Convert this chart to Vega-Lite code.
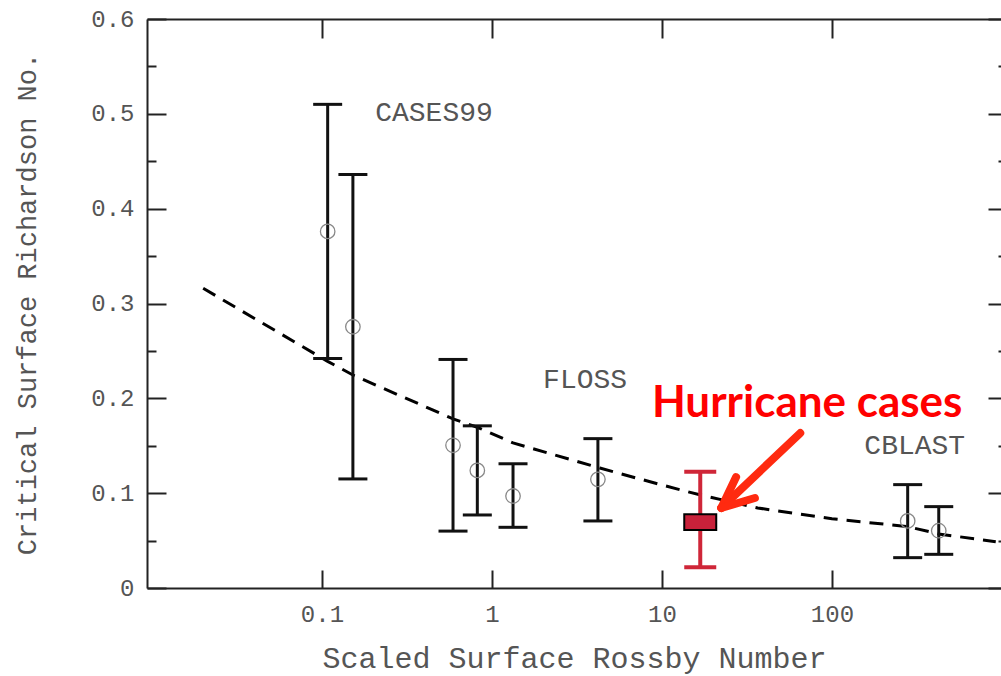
{
  "$schema": "https://vega.github.io/schema/vega-lite/v6.json",
  "autosize": {"type": "none"},
  "padding": {"left": 147, "top": 19, "right": 0, "bottom": 88},
  "width": 854,
  "height": 569,
  "background": "white",
  "config": {"view": {"stroke": null}},
  "datasets": {
    "bars": [
      {"x": 0.108, "lo": 0.242, "hi": 0.510, "mid": 0.376},
      {"x": 0.152, "lo": 0.115, "hi": 0.436, "mid": 0.2755},
      {"x": 0.59, "lo": 0.060, "hi": 0.241, "mid": 0.1505},
      {"x": 0.82, "lo": 0.077, "hi": 0.171, "mid": 0.124},
      {"x": 1.33, "lo": 0.064, "hi": 0.131, "mid": 0.097},
      {"x": 4.2, "lo": 0.0707, "hi": 0.1575, "mid": 0.1146},
      {"x": 279, "lo": 0.032, "hi": 0.109, "mid": 0.0707},
      {"x": 425, "lo": 0.0355, "hi": 0.0858, "mid": 0.0604}
    ],
    "hurricane": [
      {"x": 16.8, "lo": 0.0218, "hi": 0.1227, "boxLo": 0.0612, "boxHi": 0.0777}
    ],
    "curve": [
      {"x": 0.02, "ri": 0.316},
      {"x": 0.108, "ri": 0.239},
      {"x": 0.152, "ri": 0.2246},
      {"x": 0.596, "ri": 0.178},
      {"x": 0.82, "ri": 0.1695},
      {"x": 1.33, "ri": 0.153},
      {"x": 4.31, "ri": 0.1265},
      {"x": 10, "ri": 0.1086},
      {"x": 16.9, "ri": 0.098},
      {"x": 36.6, "ri": 0.0844},
      {"x": 100, "ri": 0.073},
      {"x": 280, "ri": 0.0647},
      {"x": 424, "ri": 0.057},
      {"x": 920, "ri": 0.0488}
    ],
    "labels": [
      {"x": 0.456, "y": 0.501, "text": "CASES99"},
      {"x": 3.53, "y": 0.2193, "text": "FLOSS"},
      {"x": 307, "y": 0.1497, "text": "CBLAST"}
    ],
    "note": [
      {"x": 71.5, "y": 0.194, "text": "Hurricane cases"}
    ],
    "arrow": [
      {"x": 65.1, "y": 0.1634, "x2": 22.34, "y2": 0.0844},
      {"x": 22.34, "y": 0.0844, "x2": 27.3, "y2": 0.117},
      {"x": 22.34, "y": 0.0844, "x2": 35.2, "y2": 0.0949}
    ]
  },
  "resolve": {"axis": {"x": "independent", "y": "independent"}},
  "layer": [
    {
      "data": {"name": "curve"},
      "mark": {"type": "line", "color": "black", "strokeWidth": 3, "strokeDash": [14, 9]},
      "encoding": {
        "x": {"field": "x", "type": "quantitative",
          "scale": {"type": "log", "domain": [0.01, 923], "nice": false},
          "axis": {"orient": "bottom", "values": [0.1, 1, 10, 100], "format": "~g",
            "tickSize": -18, "tickWidth": 2, "tickColor": "#222",
            "domainColor": "#222", "domainWidth": 2, "grid": false,
            "labelFont": "Liberation Mono", "labelFontSize": 24, "labelColor": "#555",
            "labelPadding": 32, "labelFlush": false,
            "title": "Scaled Surface Rossby Number", "titleFont": "Liberation Mono",
            "titleFontSize": 30, "titleFontWeight": "normal", "titleColor": "#555",
            "titleY": 79, "titleBaseline": "alphabetic"}},
        "y": {"field": "ri", "type": "quantitative",
          "scale": {"domain": [0, 0.6], "nice": false, "zero": false},
          "axis": {"orient": "left",
            "values": [0, 0.05, 0.1, 0.15, 0.2, 0.25, 0.3, 0.35, 0.4, 0.45, 0.5, 0.55, 0.6],
            "labelExpr": "abs(datum.value*10 - round(datum.value*10)) < 0.01 ? (datum.value == 0 ? '0' : format(datum.value, '.1f')) : ''",
            "tickSize": {"condition": {"test": "abs(datum.value*10 - round(datum.value*10)) < 0.01", "value": -19}, "value": -9},
            "tickWidth": 2, "tickColor": "#222",
            "domainColor": "#222", "domainWidth": 2, "grid": false,
            "labelFont": "Liberation Mono", "labelFontSize": 24, "labelColor": "#555",
            "labelPadding": 32, "labelFlush": false, "labelBaseline": "middle",
            "title": "Critical Surface Richardson No.", "titleFont": "Liberation Mono",
            "titleFontSize": 27, "titleFontWeight": "normal", "titleColor": "#555",
            "titleX": -112, "titleBaseline": "alphabetic"}}
      }
    },
    {
      "data": {"name": "bars"},
      "mark": {"type": "rule", "color": "#111", "strokeWidth": 3, "opacity": 1},
      "encoding": {
        "x": {"field": "x", "type": "quantitative", "scale": {"type": "log", "domain": [0.01, 923], "nice": false}, "axis": null},
        "y": {"field": "lo", "type": "quantitative", "scale": {"domain": [0, 0.6], "nice": false, "zero": false}, "axis": null},
        "y2": {"field": "hi"}
      }
    },
    {
      "data": {"name": "bars"},
      "mark": {"type": "tick", "orient": "horizontal", "color": "#111", "size": 29, "thickness": 3, "opacity": 1},
      "encoding": {
        "x": {"field": "x", "type": "quantitative", "scale": {"type": "log", "domain": [0.01, 923], "nice": false}, "axis": null},
        "y": {"field": "lo", "type": "quantitative", "scale": {"domain": [0, 0.6], "nice": false, "zero": false}, "axis": null}
      }
    },
    {
      "data": {"name": "bars"},
      "mark": {"type": "tick", "orient": "horizontal", "color": "#111", "size": 29, "thickness": 3, "opacity": 1},
      "encoding": {
        "x": {"field": "x", "type": "quantitative", "scale": {"type": "log", "domain": [0.01, 923], "nice": false}, "axis": null},
        "y": {"field": "hi", "type": "quantitative", "scale": {"domain": [0, 0.6], "nice": false, "zero": false}, "axis": null}
      }
    },
    {
      "data": {"name": "bars"},
      "mark": {"type": "point", "shape": "circle", "filled": false, "color": "#888", "strokeWidth": 1.3, "size": 210, "opacity": 1},
      "encoding": {
        "x": {"field": "x", "type": "quantitative", "scale": {"type": "log", "domain": [0.01, 923], "nice": false}, "axis": null},
        "y": {"field": "mid", "type": "quantitative", "scale": {"domain": [0, 0.6], "nice": false, "zero": false}, "axis": null}
      }
    },
    {
      "data": {"name": "hurricane"},
      "mark": {"type": "rule", "color": "#CF2638", "strokeWidth": 4, "opacity": 1},
      "encoding": {
        "x": {"field": "x", "type": "quantitative", "scale": {"type": "log", "domain": [0.01, 923], "nice": false}, "axis": null},
        "y": {"field": "lo", "type": "quantitative", "scale": {"domain": [0, 0.6], "nice": false, "zero": false}, "axis": null},
        "y2": {"field": "hi"}
      }
    },
    {
      "data": {"name": "hurricane"},
      "mark": {"type": "tick", "orient": "horizontal", "color": "#CF2638", "size": 32, "thickness": 4, "opacity": 1},
      "encoding": {
        "x": {"field": "x", "type": "quantitative", "scale": {"type": "log", "domain": [0.01, 923], "nice": false}, "axis": null},
        "y": {"field": "lo", "type": "quantitative", "scale": {"domain": [0, 0.6], "nice": false, "zero": false}, "axis": null}
      }
    },
    {
      "data": {"name": "hurricane"},
      "mark": {"type": "tick", "orient": "horizontal", "color": "#CF2638", "size": 32, "thickness": 4, "opacity": 1},
      "encoding": {
        "x": {"field": "x", "type": "quantitative", "scale": {"type": "log", "domain": [0.01, 923], "nice": false}, "axis": null},
        "y": {"field": "hi", "type": "quantitative", "scale": {"domain": [0, 0.6], "nice": false, "zero": false}, "axis": null}
      }
    },
    {
      "data": {"name": "hurricane"},
      "mark": {"type": "bar", "width": 32, "color": "#C8213A", "stroke": "black", "strokeWidth": 2, "opacity": 1},
      "encoding": {
        "x": {"field": "x", "type": "quantitative", "scale": {"type": "log", "domain": [0.01, 923], "nice": false}, "axis": null},
        "y": {"field": "boxLo", "type": "quantitative", "scale": {"domain": [0, 0.6], "nice": false, "zero": false}, "axis": null},
        "y2": {"field": "boxHi"}
      }
    },
    {
      "data": {"name": "labels"},
      "mark": {"type": "text", "font": "Liberation Mono", "fontSize": 28, "color": "#555", "align": "center", "baseline": "middle"},
      "encoding": {
        "x": {"field": "x", "type": "quantitative", "scale": {"type": "log", "domain": [0.01, 923], "nice": false}, "axis": null},
        "y": {"field": "y", "type": "quantitative", "scale": {"domain": [0, 0.6], "nice": false, "zero": false}, "axis": null},
        "text": {"field": "text"}
      }
    },
    {
      "data": {"name": "note"},
      "mark": {"type": "text", "font": "Lato", "fontWeight": "bold", "fontSize": 44, "color": "#FF0000", "align": "center", "baseline": "middle"},
      "encoding": {
        "x": {"field": "x", "type": "quantitative", "scale": {"type": "log", "domain": [0.01, 923], "nice": false}, "axis": null},
        "y": {"field": "y", "type": "quantitative", "scale": {"domain": [0, 0.6], "nice": false, "zero": false}, "axis": null},
        "text": {"field": "text"}
      }
    },
    {
      "data": {"name": "arrow"},
      "mark": {"type": "rule", "color": "#FF2A10", "strokeWidth": 8, "strokeCap": "round", "opacity": 1},
      "encoding": {
        "x": {"field": "x", "type": "quantitative", "scale": {"type": "log", "domain": [0.01, 923], "nice": false}, "axis": null},
        "y": {"field": "y", "type": "quantitative", "scale": {"domain": [0, 0.6], "nice": false, "zero": false}, "axis": null},
        "x2": {"field": "x2"},
        "y2": {"field": "y2"}
      }
    },
    {
      "data": {"name": "curve"},
      "mark": {"type": "point", "opacity": 0},
      "encoding": {
        "x": {"field": "x", "type": "quantitative",
          "scale": {"type": "log", "domain": [0.01, 923], "nice": false},
          "axis": {"orient": "top", "values": [0.1, 1, 10, 100], "labels": false,
            "tickSize": -19, "tickWidth": 2, "tickColor": "#222",
            "domainColor": "#222", "domainWidth": 2, "grid": false, "title": null}},
        "y": {"field": "ri", "type": "quantitative",
          "scale": {"domain": [0, 0.6], "nice": false, "zero": false},
          "axis": {"orient": "right", "offset": 6, "domain": false, "labels": false,
            "values": [0, 0.05, 0.1, 0.15, 0.2, 0.25, 0.3, 0.35, 0.4, 0.45, 0.5, 0.55, 0.6],
            "tickSize": {"condition": {"test": "abs(datum.value*10 - round(datum.value*10)) < 0.01", "value": -19}, "value": -9},
            "tickWidth": 2, "tickColor": "#222", "grid": false, "title": null}}
      }
    }
  ]
}
